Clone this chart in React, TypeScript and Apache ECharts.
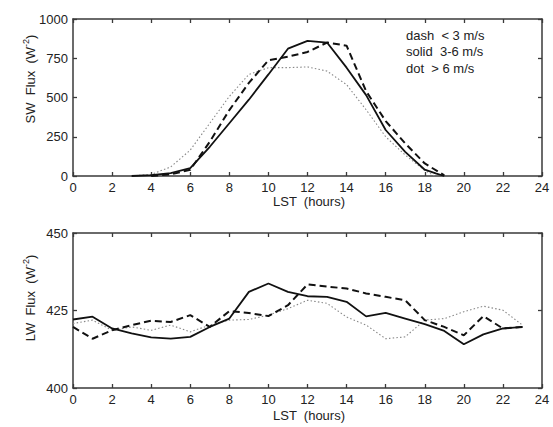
import React, { useEffect, useRef } from "react";
import * as echarts from "echarts";

// Top panel: shortwave flux (W m^-2) vs local solar time
const swDashHours = [4, 5, 6, 7, 8, 9, 10, 11, 12, 13, 14, 15, 16, 17, 18, 19];
const swDash = [0, 10, 40, 218, 420, 593, 737, 760, 790, 850, 830, 540, 350, 208, 80, 4];
const swSolidHours = [3, 4, 5, 6, 7, 8, 9, 10, 11, 12, 13, 14, 15, 16, 17, 18, 18.6, 19];
const swSolid = [0, 5, 18, 50, 186, 336, 486, 647, 811, 861, 850, 690, 515, 293, 154, 40, 15, 0];
const swDotHours = [3, 4, 5, 6, 7, 8, 9, 10, 11, 12, 13, 14, 15, 16, 17, 18, 18.5];
const swDot = [0, 10, 58, 165, 336, 507, 647, 690, 690, 695, 668, 582, 422, 250, 133, 36, 0];

// Bottom panel: longwave flux
const lwHours = [0, 1, 2, 3, 4, 5, 6, 7, 8, 9, 10, 11, 12, 13, 14, 15, 16, 17, 18, 19, 20, 21, 22, 23];
const lwDash = [419.7, 415.9, 418.6, 420.3, 421.7, 421.3, 423.5, 419.7, 424.8, 424.2, 423.2, 426.7, 433.4, 432.7, 432.1, 430.5, 429.4, 428.3, 421.9, 419.7, 417.0, 423.2, 419.2, 419.7];
const lwSolid = [422.1, 423.0, 419.2, 417.6, 416.3, 415.9, 416.5, 419.7, 422.4, 431.0, 433.7, 431.0, 429.6, 429.4, 427.8, 423.1, 424.2, 422.4, 420.6, 418.4, 414.1, 417.3, 419.2, 419.7];
const lwDot = [420.8, 421.9, 418.6, 419.7, 418.6, 420.3, 418.1, 420.3, 421.9, 422.1, 423.5, 425.6, 428.3, 427.3, 422.9, 420.3, 415.9, 416.5, 421.9, 422.4, 424.6, 426.4, 425.1, 420.3];

const xTicks = { min: 0, max: 24, interval: 2 };
const swTicks = { min: 0, max: 1000, interval: 250 };
const lwTicks = { min: 400, max: 450, interval: 25 };

const legendLines = ["dash  < 3 m/s", "solid  3-6 m/s", "dot  > 6 m/s"];

const FONT = "'Liberation Sans', Arial, sans-serif";
const AX = "#3a3a3a";

function pairs(h: number[], v: number[]) {
  return h.map((x, i) => [x, v[i]]);
}

export default function App() {
  const ref = useRef<HTMLDivElement>(null);
  useEffect(() => {
    document.body.style.margin = "0";
    const chart = echarts.init(ref.current!, null, { renderer: "svg" });
    const axisCommon = (showLabel: boolean) => ({
      axisLine: { show: true, onZero: false, lineStyle: { color: AX, width: 1.5 } },
      axisTick: { show: true, inside: true, length: 4, lineStyle: { color: AX, width: 1.3 } },
      axisLabel: {
        show: showLabel, color: "#222", fontSize: 13, fontFamily: FONT, margin: 5,
        formatter: (v: number) => String(v),
      },
      splitLine: { show: false },
    });
    const xAx = (grid: number, pos: "top" | "bottom") => ({
      type: "value", gridIndex: grid, position: pos, ...xTicks, ...axisCommon(pos === "bottom"),
    });
    const yAx = (grid: number, pos: "left" | "right", t: any) => ({
      type: "value", gridIndex: grid, position: pos, ...t, ...axisCommon(pos === "left"),
    });
    const solid = { color: "#111", width: 1.8, type: "solid" };
    const dash = { color: "#111", width: 2, type: [7, 4] };
    const dot = { color: "#888", width: 1.1, type: [1.5, 2.2] };
    const mk = (name: string, data: any, xi: number, ls: any) => ({
      name, type: "line", data, xAxisIndex: xi, yAxisIndex: xi, symbol: "none",
      lineStyle: ls, z: ls === dot ? 1 : 2,
    });
    const txt = (text: string, x: number, y: number, extra: any = {}) => ({
      type: "text", x, y, ...extra,
      style: { text, fill: "#222", font: `13px ${FONT}`, textAlign: extra.align || "left", textVerticalAlign: "middle" },
    });
    const yName = (label: string, x: number, y: number) => ({
      type: "text", x, y, rotation: Math.PI / 2,
      style: {
        text: `{a|${label}  (W}{s|-2}{a|)}`,
        fill: "#222", font: `13px ${FONT}`, textAlign: "center", textVerticalAlign: "middle",
        rich: {
          a: { fontSize: 13, fontFamily: FONT, fill: "#222", verticalAlign: "bottom", lineHeight: 16 },
          s: { fontSize: 9, fontFamily: FONT, fill: "#222", verticalAlign: "top", lineHeight: 16 },
        },
      },
    });
    chart.setOption({
      animation: false,
      backgroundColor: "#fff",
      grid: [
        { left: 73, top: 19, width: 469, height: 157 },
        { left: 73, top: 233, width: 469, height: 155 },
      ],
      xAxis: [xAx(0, "bottom"), xAx(0, "top"), xAx(1, "bottom"), xAx(1, "top")],
      yAxis: [yAx(0, "left", swTicks), yAx(0, "right", swTicks), yAx(1, "left", lwTicks), yAx(1, "right", lwTicks)],
      series: [
        mk("SW dot", pairs(swDotHours, swDot), 0, dot),
        mk("SW dash", pairs(swDashHours, swDash), 0, dash),
        mk("SW solid", pairs(swSolidHours, swSolid), 0, solid),
        mk("LW dot", pairs(lwHours, lwDot), 2, dot),
        mk("LW dash", pairs(lwHours, lwDash), 2, dash),
        mk("LW solid", pairs(lwHours, lwSolid), 2, solid),
      ],
      graphic: [
        yName("SW  Flux", 29, 79),
        yName("LW  Flux", 29, 298),
        txt("LST  (hours)", 309, 201, { align: "center" }),
        txt("LST  (hours)", 309, 415, { align: "center" }),
        ...legendLines.map((l, i) => txt(l, 406, 35 + i * 16.5)),
      ],
    });
    return () => chart.dispose();
  }, []);
  return <div ref={ref} style={{ position: "fixed", left: 0, top: 0, width: 553, height: 427 }} />;
}
